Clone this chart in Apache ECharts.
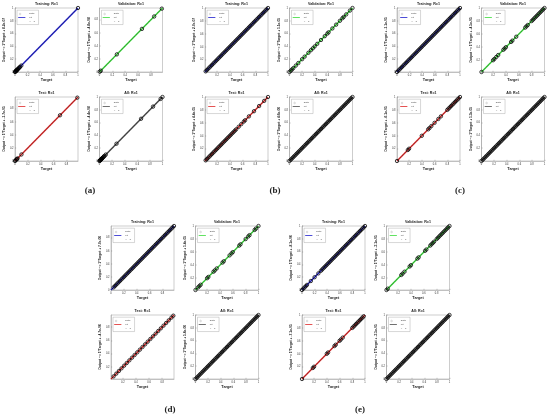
<!DOCTYPE html>
<html>
<head>
<meta charset="utf-8">
<script src="https://cdn.jsdelivr.net/npm/echarts@6/dist/echarts.min.js"></script>
<style>
  html, body { margin: 0; padding: 0; background: #fff; }
  #chart { width: 550px; height: 419px; }
</style>
</head>
<body>
<div id="chart"></div>
<script>
// 回归图数据: 各子图的 target 值, R=1 所以 output 与 target 相同
const denseTargets = [0, 0.02, 0.04, 0.06, 0.08, 0.1, 0.12, 0.14, 0.16, 0.18, 0.2, 0.22, 0.24, 0.26, 0.28, 0.3,
  0.32, 0.34, 0.36, 0.38, 0.4, 0.42, 0.44, 0.46, 0.48, 0.5, 0.52, 0.54, 0.56, 0.58, 0.6, 0.62, 0.64, 0.66,
  0.68, 0.7, 0.72, 0.74, 0.76, 0.78, 0.8, 0.82, 0.84, 0.86, 0.88, 0.9, 0.92, 0.94, 0.96, 0.98, 1];

const trainA = [0, 0.005, 0.01, 0.015, 0.02, 0.025, 0.03, 0.035, 0.04, 0.05, 0.06, 0.07, 0.08, 0.1, 1];
const valA = [0.005, 0.02, 0.27, 0.66, 0.85, 0.97];
const testA = [0, 0.01, 0.02, 0.03, 0.04, 0.1, 0.7, 0.97];
const allA = [0, 0.005, 0.01, 0.015, 0.02, 0.025, 0.03, 0.035, 0.04, 0.05, 0.06, 0.07, 0.08, 0.1, 0.27, 0.66, 0.85, 0.97, 1];

const trainB = denseTargets;
const valB = [0, 0.02, 0.04, 0.06, 0.1, 0.14, 0.2, 0.24, 0.3, 0.34, 0.37, 0.4, 0.44, 0.5, 0.56, 0.6, 0.62,
  0.68, 0.74, 0.8, 0.84, 0.86, 0.9, 0.96, 1];
const testB = [0.02, 0.04, 0.06, 0.08, 0.1, 0.12, 0.14, 0.16, 0.18, 0.2, 0.22, 0.24, 0.26, 0.28, 0.3, 0.32,
  0.34, 0.36, 0.38, 0.4, 0.42, 0.44, 0.46, 0.48, 0.5, 0.54, 0.58, 0.62, 0.64, 0.7, 0.78, 0.86, 0.94, 1];
const allB = denseTargets;

const trainC = denseTargets;
const valC = [0.02, 0.2, 0.22, 0.25, 0.28, 0.36, 0.38, 0.4, 0.48, 0.5, 0.56, 0.7, 0.72, 0.74, 0.8, 0.82,
  0.84, 0.86, 0.88, 0.9, 0.92, 0.94, 0.96, 0.98, 1];
const testC = [0.01, 0.18, 0.2, 0.4, 0.5, 0.52, 0.55, 0.6, 0.66, 0.7, 0.8, 0.82, 0.84, 0.86, 0.88, 0.9,
  0.92, 0.94, 0.96, 0.98, 1];
const allC = denseTargets;

const trainD = denseTargets.slice(2, 50);
const valD = [0.02, 0.06, 0.08, 0.1, 0.2, 0.22, 0.3, 0.32, 0.35, 0.44, 0.46, 0.55, 0.58, 0.6, 0.7, 0.72,
  0.8, 0.84, 0.86, 0.94, 0.96, 1];
const testD = [0.06, 0.1, 0.14, 0.18, 0.22, 0.26, 0.3, 0.34, 0.38, 0.42, 0.46, 0.5, 0.54, 0.58, 0.62, 0.66,
  0.7, 0.74, 0.78, 0.82, 0.86, 0.9, 0.94, 0.97];
const allD = denseTargets;

const trainE = [0, 0.02, 0.04, 0.06, 0.08, 0.14, 0.2, 0.26, 0.3, 0.32, 0.34, 0.36, 0.38, 0.4, 0.42, 0.44,
  0.46, 0.48, 0.5, 0.52, 0.54, 0.56, 0.58, 0.6, 0.62, 0.64, 0.66, 0.68, 0.7, 0.72, 0.74, 0.76, 0.78, 0.8,
  0.82, 0.84, 0.86, 0.88, 0.9, 0.92, 0.94, 0.96, 0.98, 1];
const valE = [0.02, 0.04, 0.25, 0.27, 0.3, 0.38, 0.4, 0.5, 0.52, 0.62, 0.64, 0.7, 0.72, 0.74, 0.76, 0.8,
  0.82, 0.84, 0.86, 0.88, 0.9, 0.92, 0.94, 0.96, 0.98, 1];
const testE = [0.01, 0.18, 0.2, 0.4, 0.42, 0.52, 0.54, 0.6, 0.62, 0.65, 0.8, 0.82, 0.84, 0.86, 0.88, 0.9,
  0.92, 0.94, 0.96, 0.98];
const allE = denseTargets;

const panelTargets = [
  [trainA, valA, testA, allA],
  [trainB, valB, testB, allB],
  [trainC, valC, testC, allC],
  [trainD, valD, testD, allD],
  [trainE, valE, testE, allE]
];

// 坐标范围
const axisMin = [[0, 0, 0, 0], [0.01, 0, 0.01, 0], [0, 0.02, 0.01, 0], [0, 0.02, 0.02, 0], [0, 0.02, 0.01, 0]];
const axisMax = [[1, 0.98, 0.98, 1], [1, 1, 1, 1], [1, 1, 1, 1], [0.98, 1, 0.98, 1], [1, 1, 1, 1]];
const tickValues = [0, 0.2, 0.4, 0.6, 0.8, 1];

// 拟合截距
const fitOffsets = [
  ['8.2e-07', '-4.8e-08', '-1.7e-05', '-4.4e-08'],
  ['2.7e-07', '1.1e-05', '4.4e-05', '4.6e-06'],
  ['-1.1e-05', '-4.5e-05', '-6.1e-05', '1.3e-05'],
  ['7.7e-06', '1.4e-05', '-4.7e-06', '5.8e-06'],
  ['-8.1e-06', '-3.1e-05', '-7.1e-05', '-3.5e-05']
];

const plotTitles = ['Training: R=1', 'Validation: R=1', 'Test: R=1', 'All: R=1'];
const panelLabels = ['(a)', '(b)', '(c)', '(d)', '(e)'];
const fitColors = ['#2b2bd0', '#44dd44', '#e03333', '#555555'];

// 布局
const panelLeft = [15, 205, 397, 111, 302];
const panelTop = [8, 8, 8, 226, 226];
const labelPos = [[90, 186], [275, 186], [460, 186], [170, 405], [360, 405]];
const colStep = 84.5, rowStep = 89, plotW = 63, plotH = 64;

// 图例图标 (外框点保证比例不被拉伸)
const iconData = 'path://M0,0 M12,6 M3.2,3 A1.4,1.4 0 1 1 3.19,3 Z';
const iconFit = 'path://M0,0 M12,6 M0,2.3 L12,2.3 L12,3.7 L0,3.7 Z';
const iconDot = 'path://M0,0 M12,6 M0,2.8 L1,2.8 L1,3.2 L0,3.2 Z M2,2.8 L3,2.8 L3,3.2 L2,3.2 Z M4,2.8 L5,2.8 L5,3.2 L4,3.2 Z ' +
  'M6,2.8 L7,2.8 L7,3.2 L6,3.2 Z M8,2.8 L9,2.8 L9,3.2 L8,3.2 Z M10,2.8 L11,2.8 L11,3.2 L10,3.2 Z';

const grid = [], xAxis = [], yAxis = [], series = [], legend = [], title = [];

panelTargets.forEach((group, p) => {
  group.forEach((targets, k) => {
    const idx = p * 4 + k;
    const left = panelLeft[p] + (k % 2) * colStep;
    const top = panelTop[p] + Math.floor(k / 2) * rowStep;
    const lo = axisMin[p][k], hi = axisMax[p][k];
    const ticks = tickValues.filter(v => v >= lo - 1e-9 && v <= hi + 1e-9);
    const tag = '|' + idx;

    grid.push({
      left: left, top: top, width: plotW, height: plotH,
      show: true, borderColor: '#9a9a9a', borderWidth: 0.5, backgroundColor: '#fff'
    });

    const axisCommon = {
      type: 'value', gridIndex: idx, min: lo, max: hi,
      nameLocation: 'middle',
      axisLine: { show: true, lineStyle: { color: '#9a9a9a', width: 0.5 } },
      axisTick: { show: true, inside: true, length: 1.2, customValues: ticks, lineStyle: { color: '#777', width: 0.4 } },
      axisLabel: { customValues: ticks, fontSize: 2.6, margin: 1.5, color: '#333', formatter: v => String(v) },
      splitLine: { show: false }
    };
    xAxis.push(Object.assign({}, axisCommon, {
      name: 'Target', nameGap: 5.5,
      nameTextStyle: { fontSize: 3.8, fontWeight: 'bold', color: '#222' }
    }));
    yAxis.push(Object.assign({}, axisCommon, {
      name: 'Output ~= 1*Target + ' + fitOffsets[p][k], nameGap: 6,
      nameTextStyle: { fontSize: 3.3, fontWeight: 'bold', color: '#222' }
    }));

    // 拟合线 (在下), 数据点, Y = T 虚线
    series.push({
      name: 'Fit' + tag, type: 'line', xAxisIndex: idx, yAxisIndex: idx,
      symbol: 'none', silent: true, z: 1,
      lineStyle: { color: fitColors[k], width: 1.6 },
      itemStyle: { color: fitColors[k] },
      data: [[lo, lo], [hi, hi]]
    });
    series.push({
      name: 'Data' + tag, type: 'scatter', xAxisIndex: idx, yAxisIndex: idx,
      symbol: 'circle', symbolSize: 3.4, z: 2,
      itemStyle: { color: 'rgba(0,0,0,0)', borderColor: '#000', borderWidth: 0.95 },
      data: targets.map(t => [t, t])
    });
    series.push({
      name: 'Y = T' + tag, type: 'line', xAxisIndex: idx, yAxisIndex: idx,
      symbol: 'none', silent: true, z: 3,
      lineStyle: { color: '#000', width: 0.5, type: 'dotted' },
      itemStyle: { color: '#000' },
      data: [[lo, lo], [hi, hi]]
    });

    legend.push({
      left: left + 2, top: top + 2.2, orient: 'vertical',
      data: [
        { name: 'Data' + tag, icon: iconData, itemStyle: { color: 'rgba(0,0,0,0)', borderColor: '#888', borderWidth: 0.35 } },
        { name: 'Fit' + tag, icon: iconFit, itemStyle: { color: fitColors[k], borderWidth: 0 } },
        { name: 'Y = T' + tag, icon: iconDot, itemStyle: { color: '#666', borderWidth: 0 } }
      ],
      formatter: name => name.split('|')[0],
      itemWidth: 11, itemHeight: 3.6, itemGap: 0.6,
      padding: [1, 3.5, 1, 1],
      backgroundColor: '#fff', borderColor: '#999', borderWidth: 0.4,
      textStyle: { fontSize: 2.4, color: '#444', padding: [0, 0, 0, -3] },
      selectedMode: false
    });

    title.push({
      text: plotTitles[k], left: left + plotW / 2, top: top - 6.2, textAlign: 'center', padding: 0,
      textStyle: { fontSize: 3.6, fontWeight: 'bold', color: '#222' }
    });
  });
});

panelLabels.forEach((txt, p) => {
  title.push({
    text: txt, left: labelPos[p][0], top: labelPos[p][1], textAlign: 'center', padding: 0,
    textStyle: { fontSize: 9, fontWeight: 'bold', color: '#222', fontFamily: 'Liberation Serif' }
  });
});

const myChart = echarts.init(document.getElementById('chart'));
myChart.setOption({
  animation: false,
  backgroundColor: '#fff',
  textStyle: { fontFamily: 'Liberation Sans, Arial, sans-serif' },
  title: title,
  legend: legend,
  grid: grid,
  xAxis: xAxis,
  yAxis: yAxis,
  series: series
});
</script>
</body>
</html>
